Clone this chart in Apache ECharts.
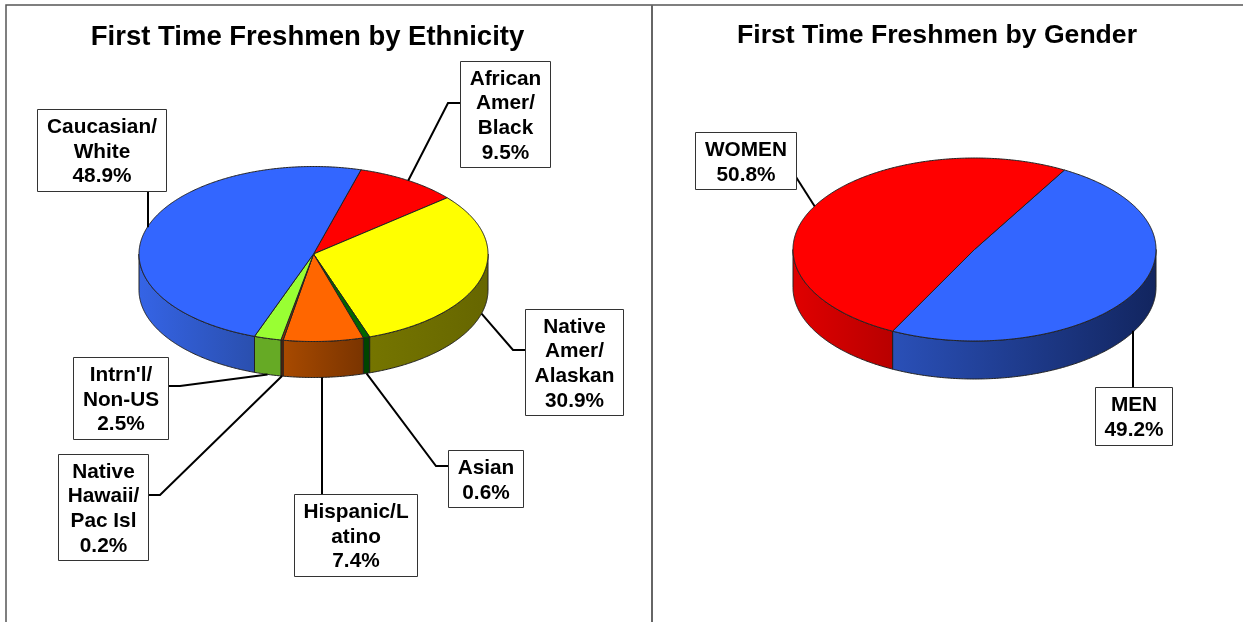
<!DOCTYPE html>
<html>
<head>
<meta charset="utf-8">
<style>html,body{margin:0;padding:0;background:#fff}#c{width:1243px;height:622px}</style>
<script src="https://cdn.jsdelivr.net/npm/echarts@6/dist/echarts.min.js"></script>
</head>
<body>
<div id="c"></div>
<script>
// ---- data ----
const ethnicityCategories = ['African\nAmer/\nBlack', 'Native\nAmer/\nAlaskan', 'Asian', 'Hispanic/L\natino', 'Native\nHawaii/\nPac Isl', "Intrn'l/\nNon-US", 'Caucasian/\nWhite'];
const ethnicityValues = [9.5, 30.9, 0.6, 7.4, 0.2, 2.5, 48.9];
const genderCategories = ['MEN', 'WOMEN'];
const genderValues = [49.2, 50.8];
const titles = ['First Time Freshmen by Ethnicity', 'First Time Freshmen by Gender'];

// ---- styles ----
const ethnicityTop = ['#ff0000', '#ffff00', '#006600', '#ff6600', '#993300', '#99ff33', '#3366ff'];
const ethnicitySide = [['#b00000', '#b00000'], ['#757500', '#666600'], ['#004400', '#004400'], ['#a84a00', '#7a3400'], ['#662200', '#662200'], ['#66aa25', '#66aa25'], ['#3564e6', '#2a4fae']];
const genderTop = ['#3366ff', '#ff0000'];
const genderSide = [['#2a50b8', '#12255f'], ['#e00000', '#b80000']];

// ---- layout ----
// boxes: [left, top, right, bottom]; leaders: points from the box toward the slice
const ethnicityGeom = { cx: 313.5, cy: 254, rx: 174.5, ry: 87.5, depth: 36, start: 15.8 };
const ethnicityBoxes = [[460, 61, 550, 167], [525, 309, 623, 415], [448, 450, 523, 507], [294, 494, 417, 576], [58, 454, 148, 560], [73, 357, 168, 439], [37, 109, 166, 191]];
const ethnicityLeaders = [[[460, 103], [448, 103]], [[525, 350], [513, 350]], [[448, 466], [436, 466]], [[322, 494]], [[148, 495], [160, 495]], [[168, 386], [180, 386]], [[148, 191]]];
const ethnicityLower = [false, true, true, true, true, true, false];

const genderGeom = { cx: 974.5, cy: 249.5, rx: 181.5, ry: 91.5, depth: 38, start: 29.7 };
const genderBoxes = [[1095, 387, 1172, 445], [695, 132, 796, 189]];
const genderLeaders = [[[1133, 387]], [[796, 177]]];
const genderLower = [true, false];

const FONT = '"Liberation Sans", Arial, sans-serif';

function angles(values, start, i) {
  const total = values.reduce((a, b) => a + b, 0);
  let sum = 0;
  for (let k = 0; k < i; k++) sum += values[k];
  return [start + sum / total * 360, start + (sum + values[i]) / total * 360];
}
function pt(g, a, dy) {
  const r = a * Math.PI / 180;
  return [g.cx + g.rx * Math.sin(r), g.cy - g.ry * Math.cos(r) + (dy || 0)];
}
function arc(g, a0, a1, dy) {
  const pts = [];
  for (let a = a0; a < a1; a += 0.5) pts.push(pt(g, a, dy));
  pts.push(pt(g, a1, dy));
  return pts;
}
function makePie(values, names, g, topColors, sideColors, boxes, leaders, lower) {
  const data = values.map((v, i) => ({ value: v, name: names[i] }));
  const side = {
    type: 'custom', coordinateSystem: 'none', silent: true, z: 2, data,
    renderItem(p, api) {
      const i = p.dataIndex;
      const [a0, a1] = angles(values, g.start, i);
      const s = Math.max(a0, 90), e = Math.min(a1, 270);
      if (e <= s) return { type: 'group', children: [] };
      const points = arc(g, s, e, 0).concat(arc(g, s, e, g.depth).reverse());
      return {
        type: 'polygon', shape: { points },
        style: {
          fill: new echarts.graphic.LinearGradient(0, 0, 1, 0, [{ offset: 0, color: sideColors[i][0] }, { offset: 1, color: sideColors[i][1] }]),
          stroke: '#222', lineWidth: 1, lineJoin: 'round'
        }
      };
    }
  };
  const top = {
    type: 'custom', coordinateSystem: 'none', silent: true, z: 3, data,
    renderItem(p, api) {
      const i = p.dataIndex;
      const [a0, a1] = angles(values, g.start, i);
      const points = [[g.cx, g.cy]].concat(arc(g, a0, a1, 0));
      return { type: 'polygon', shape: { points }, style: { fill: topColors[i], stroke: '#222', lineWidth: 1, lineJoin: 'round' } };
    }
  };
  const call = {
    type: 'custom', coordinateSystem: 'none', silent: true, z: 4, data,
    renderItem(p, api) {
      const i = p.dataIndex;
      const [a0, a1] = angles(values, g.start, i);
      const b = boxes[i];
      const anchor = pt(g, (a0 + a1) / 2, lower[i] ? g.depth : 0);
      if (leaders[i].length === 1 && Math.abs(anchor[0] - leaders[i][0][0]) < 3) anchor[0] = leaders[i][0][0];
      const path = leaders[i].concat([anchor]);
      const label = names[i] + '\n' + api.value(0).toFixed(1) + '%';
      return {
        type: 'group',
        children: [
          { type: 'polyline', shape: { points: path }, style: { fill: 'none', stroke: '#000', lineWidth: 2 } },
          { type: 'rect', shape: { x: b[0] + 0.5, y: b[1] + 0.5, width: b[2] - b[0], height: b[3] - b[1] }, style: { fill: '#fff', stroke: '#333', lineWidth: 1 } },
          { type: 'text', x: (b[0] + b[2]) / 2 + 0.5, y: (b[1] + b[3]) / 2 + 2,
            style: { text: label, fill: '#000', font: 'bold 20.8px ' + FONT, lineHeight: 24.7, align: 'center', verticalAlign: 'middle' } }
        ]
      };
    }
  };
  return [side, top, call];
}

const chart = echarts.init(document.getElementById('c'), null, { renderer: 'canvas' });
chart.setOption({
  animation: false,
  backgroundColor: '#fff',
  title: [
    { text: titles[0], left: 302.5, top: 18, textAlign: 'center', textStyle: { fontFamily: FONT, fontWeight: 'bold', fontSize: 27.5, color: '#000' } },
    { text: titles[1], left: 932, top: 17, textAlign: 'center', textStyle: { fontFamily: FONT, fontWeight: 'bold', fontSize: 26.6, color: '#000' } }
  ],
  graphic: [
    { type: 'polyline', silent: true, shape: { points: [[6, 622], [6, 5], [1243, 5]] }, style: { fill: 'none', stroke: '#555', lineWidth: 1.5 } },
    { type: 'line', silent: true, shape: { x1: 652, y1: 5, x2: 652, y2: 622 }, style: { stroke: '#666', lineWidth: 2 } }
  ],
  series: [
    ...makePie(ethnicityValues, ethnicityCategories, ethnicityGeom, ethnicityTop, ethnicitySide, ethnicityBoxes, ethnicityLeaders, ethnicityLower),
    ...makePie(genderValues, genderCategories, genderGeom, genderTop, genderSide, genderBoxes, genderLeaders, genderLower)
  ]
});
</script>
</body>
</html>
